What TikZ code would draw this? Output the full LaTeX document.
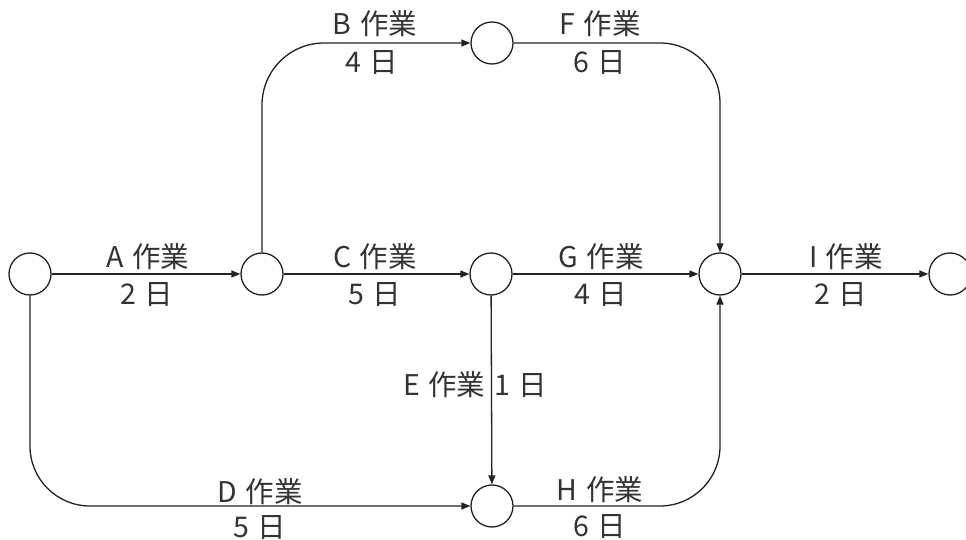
\documentclass[tikz,border=0pt]{standalone}
\usepackage{fontspec}
\newfontfamily\jp{Noto Sans CJK JP}
\usetikzlibrary{arrows.meta}
\definecolor{ink}{HTML}{222222}
\definecolor{txt}{HTML}{333333}
\newcommand{\gapsp}{\hspace{0.3em}}
\begin{document}
\begin{tikzpicture}[x=1pt,y=-1pt,
  ev/.style={circle,draw=ink,line width=1.3pt,minimum size=42pt,inner sep=0pt},
  act/.style={draw=ink,line width=1.3pt,-{Triangle[length=9pt,width=7pt]}},
  lbl/.style={font=\jp\fontsize{28.5}{31}\selectfont,text=txt,anchor=base,inner sep=0pt}]
\useasboundingbox (0,0) rectangle (966,540);
\node[ev] (n1) at (30,274) {};
\node[ev] (n2) at (262,274) {};
\node[ev] (n3) at (491,274) {};
\node[ev] (n4) at (720,274) {};
\node[ev] (n5) at (950,274) {};
\node[ev] (nt) at (492,43) {};
\node[ev] (nb) at (492,506) {};
% connectors
\draw[act] (n1) -- (n2);
\draw[act] (n2) -- (n3);
\draw[act] (n3) -- (n4);
\draw[act] (n4) -- (n5);
\draw[act] (n3) -- (nb);
\draw[act,rounded corners=62pt] (n2.north) |- (nt.west);
\draw[act,rounded corners=60pt] (nt.east) -| (n4.north);
\draw[act,rounded corners=60pt] (n1.south) |- (nb.west);
\draw[act,rounded corners=60pt] (nb.east) -| (n4.south);
% labels
\node[lbl] (la) at (148,267) {A\gapsp 作業};
\node[lbl] (la2) at (147,304) {2\gapsp 日};
\node[lbl] (lc) at (375,267) {C\gapsp 作業};
\node[lbl] (lc2) at (375,304) {5\gapsp 日};
\node[lbl] (lg) at (601,267) {G\gapsp 作業};
\node[lbl] (lg2) at (601,304) {4\gapsp 日};
\node[lbl] (li) at (846,267) {I\gapsp 作業};
\node[lbl] (li2) at (841,304) {2\gapsp 日};
\node[lbl] (lb) at (375,35) {B\gapsp 作業};
\node[lbl] (lb2) at (372,73) {4\gapsp 日};
\node[lbl] (lf) at (600,35) {F\gapsp 作業};
\node[lbl] (lf2) at (600,73) {6\gapsp 日};
\node[lbl] (ld) at (260,502) {D\gapsp 作業};
\node[lbl] (ld2) at (260,537) {5\gapsp 日};
\node[lbl] (lh) at (600,500) {H\gapsp 作業};
\node[lbl] (lh2) at (600,536) {6\gapsp 日};
\node[lbl] (le) at (475,395) {E\gapsp 作業\gapsp 1\gapsp 日};
\end{tikzpicture}
\end{document}
